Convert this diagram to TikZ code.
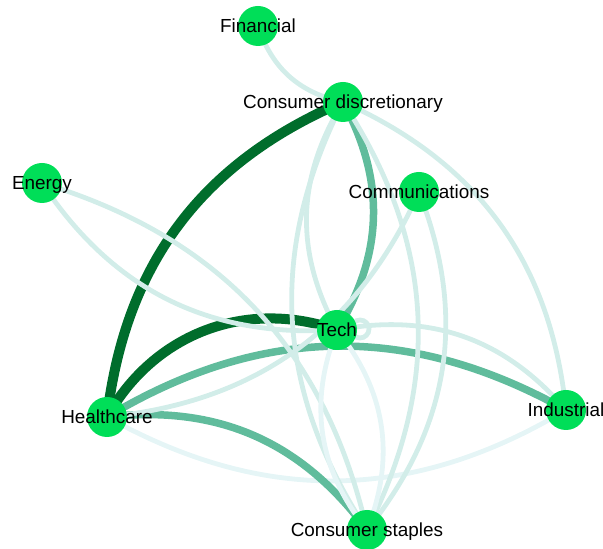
\documentclass[tikz,border=0pt]{standalone}
\usepackage{fontspec}
\setmainfont{Liberation Sans}
\definecolor{nodegreen}{RGB}{0,222,88}
\definecolor{darkedge}{RGB}{0,109,44}
\definecolor{midedge}{RGB}{96,188,156}
\definecolor{lightedge}{RGB}{210,237,233}
\definecolor{paleedge}{RGB}{229,245,246}
\pgfdeclarelayer{bg}
\pgfsetlayers{bg,main}
\tikzset{
  sector/.style={circle, fill=nodegreen, draw=none, minimum size=40pt, inner sep=0pt},
  lbl/.style={anchor=base, inner sep=0pt, text=black, font=\fontsize{18.9}{20}\selectfont},
  darkw/.style={draw=darkedge, line width=10pt},
  midw/.style={draw=midedge, line width=7.5pt},
  lightw/.style={draw=lightedge, line width=4.8pt},
  palew/.style={draw=paleedge, line width=4.8pt},
}
\begin{document}
\begin{tikzpicture}[x=1pt,y=1pt]
\useasboundingbox (0,0) rectangle (603,549);
% nodes
\node[sector] (fin)  at (258,523) {};
\node[sector] (cd)   at (343,447) {};
\node[sector] (en)   at (42,366) {};
\node[sector] (com)  at (419,357) {};
\node[sector] (tech) at (337,219) {};
\node[sector] (hc)   at (107,132) {};
\node[sector] (ind)  at (566,139) {};
\node[sector] (cs)   at (367,19) {};
% labels
\node[lbl] (lfin)  at (258,516.4) {Financial};
\node[lbl] (lcd)   at (343,440.4) {Consumer discretionary};
\node[lbl] (len)   at (42,359.4) {Energy};
\node[lbl] (lcom)  at (419,350.4) {Communications};
\node[lbl] (ltech) at (337,212.4) {Tech};
\node[lbl] (lhc)   at (107,125.4) {Healthcare};
\node[lbl] (lind)  at (566,132.4) {Industrial};
\node[lbl] (lcs)   at (367,12.4) {Consumer staples};
% edges
\begin{pgfonlayer}{bg}
\draw[darkw] (hc.center) to[bend left=30] (cd.center);
\draw[darkw] (hc.center) to[bend left=40] (tech.center);
\draw[midw] (cd.center) to[bend left=30] (tech.center);
\draw[midw] (hc.center) to[bend left=30] (ind.center);
\draw[palew] (ind.center) to[bend left=30] (hc.center);
\draw[midw] (hc.center) to[bend left=30] (cs.center);
\draw[lightw] (cd.center) to[bend left=30] (fin.center);
\draw[lightw] (tech.center) to[bend left=30] (cd.center);
\draw[lightw] (cd.center) to[bend left=30] (ind.center);
\draw[lightw] (cs.center) to[bend left=30] (cd.center);
\draw[lightw] (cd.center) to[bend left=30] (cs.center);
\draw[lightw] (tech.center) to[bend left=30] (en.center);
\draw[lightw] (en.center) to[bend left=30] (cs.center);
\draw[lightw] (com.center) to[bend left=30] (hc.center);
\draw[lightw] (com.center) to[bend left=30] (cs.center);
\draw[lightw] (tech.center) to[bend left=30] (ind.center);
\draw[palew] (cs.center) to[bend left=30] (tech.center);
\draw[palew] (tech.center) to[bend left=30] (cs.center);
\draw[lightw] ([shift={(23,1)}]tech.center) circle[radius=9];
\end{pgfonlayer}
\end{tikzpicture}
\end{document}
